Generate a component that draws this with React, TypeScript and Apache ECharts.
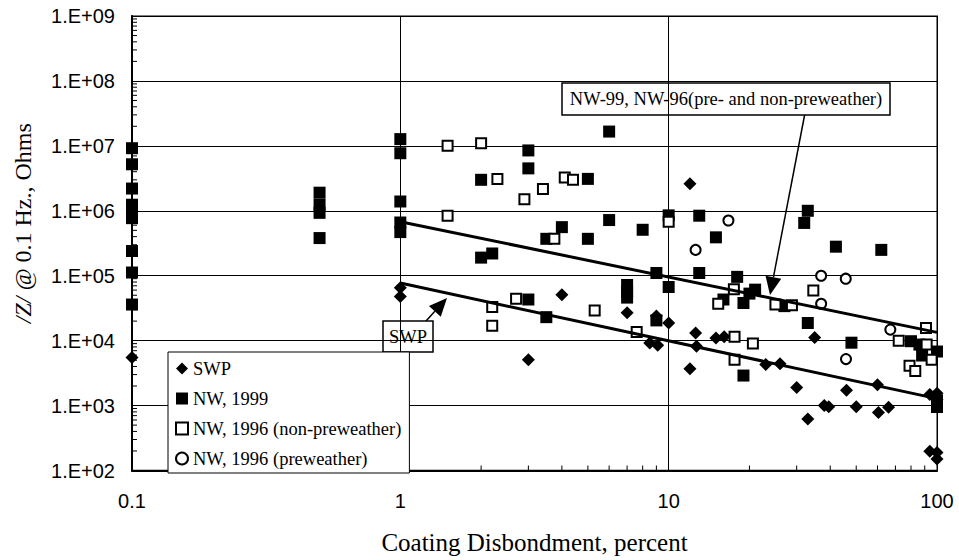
import React, { useEffect, useRef } from "react";
import * as echarts from "echarts";

// Impedance at 0.1 Hz versus coating disbondment, [percent, ohms]
const swp: [number, number][] = [
  [0.1, 5500],
  [1, 65000], [1, 48000],
  [3.0, 5100],
  [4.0, 51000],
  [7.0, 27000],
  [8.5, 9200], [9.1, 8500],
  [9.0, 24000],
  [10, 18700],
  [12, 2600000],
  [12.6, 13100], [12.7, 8200], [12, 3700],
  [15, 11000], [16.1, 11500],
  [23, 4300], [26, 4400],
  [30, 1900], [33, 620],
  [35, 11200],
  [38, 1000], [39.5, 960],
  [46, 1720], [50, 960],
  [60, 2100], [60.5, 780], [66, 940],
  [94, 1480], [100, 1550], [100, 1240],
  [94, 198], [100, 190], [100, 150],
];

const nw1999: [number, number][] = [
  [0.1, 9.2e6], [0.1, 5.2e6], [0.1, 2.2e6], [0.1, 1.24e6], [0.1, 9.8e5], [0.1, 7.7e5], [0.1, 2.4e5], [0.1, 1.12e5], [0.1, 3.6e4],
  [0.5, 1.9e6], [0.5, 1.24e6], [0.5, 9.3e5], [0.5, 3.8e5],
  [1, 1.27e7], [1, 7.7e6], [1, 1.39e6], [1, 6.6e5], [1, 4.7e5],
  [2.0, 3.0e6], [2.0, 1.9e5], [2.2, 2.2e5],
  [3.0, 8.5e6], [3.0, 4.5e6], [3.0, 4.3e4],
  [3.5, 3.7e5], [3.5, 2.3e4],
  [4.0, 5.6e5],
  [5.0, 3.1e6], [5.0, 3.7e5],
  [6.0, 1.66e7], [6.0, 7.2e5],
  [7.0, 7.2e4], [7.0, 5.7e4], [7.0, 4.6e4],
  [8.0, 5.1e5],
  [9.0, 1.1e5], [9.0, 2.05e4],
  [10, 8.5e5], [10, 6.7e4],
  [13, 8.4e5], [13, 1.1e5],
  [15, 3.9e5],
  [16, 4.3e4],
  [18, 9.6e4],
  [19, 3.8e4], [19, 2.9e3],
  [20, 5.3e4], [21, 6.1e4],
  [27, 3.4e4],
  [32, 6.5e5], [33, 1.0e6], [33, 1.87e4],
  [42, 2.8e5],
  [48, 9.3e3],
  [62, 2.5e5],
  [80, 9.8e3], [86, 8.7e3], [88, 5.9e3],
  [100, 6.8e3], [100, 1.2e3], [100, 9.5e2],
];

const nw1996Non: [number, number][] = [
  [1.5, 1.0e7], [2.0, 1.1e7], [1.5, 8.4e5],
  [2.3, 3.1e6], [2.9, 1.5e6], [3.4, 2.16e6], [4.1, 3.25e6], [4.4, 3.0e6],
  [3.75, 3.7e5], [10, 6.8e5],
  [2.2, 3.3e4], [2.2, 1.7e4], [2.7, 4.4e4],
  [5.3, 2.9e4], [7.6, 1.36e4],
  [15.3, 3.7e4], [17.5, 6.2e4], [17.6, 1.15e4], [17.6, 5.1e3], [20.6, 9.0e3],
  [25, 3.6e4], [28.8, 3.5e4], [34.6, 5.9e4],
  [72, 1.0e4], [91, 1.57e4], [91.5, 8.7e3], [79, 4.1e3], [83, 3.4e3], [95.5, 5.1e3],
];

const nw1996Pre: [number, number][] = [
  [12.6, 2.5e5], [16.7, 7.1e5], [37, 1.0e5], [45.7, 9.0e4], [37, 3.7e4], [45.8, 5.2e3], [67, 1.48e4],
];

// Power-law trend lines (end points)
const nwTrend: [number, number][] = [[1, 6.8e5], [100, 1.34e4]];
const swpTrend: [number, number][] = [[1, 7.7e4], [100, 1.28e3]];

const seriesNames = ["SWP", "NW, 1999", "NW, 1996 (non-preweather)", "NW, 1996 (preweather)"];

// Axis ranges
const X_MIN = 0.1;
const X_MAX = 100;
const Y_MIN = 100;
const Y_MAX = 1e9;

const SERIF = "'Liberation Serif', 'Times New Roman', serif";
const SANS = "'Liberation Sans', Arial, sans-serif";

// Minor log ticks (2..9 within each decade) between lo and hi
function logMinorTicks(lo: number, hi: number): number[] {
  const out: number[] = [];
  for (let d = lo; d < hi; d *= 10) {
    for (let k = 2; k <= 9; k++) out.push(Number((d * k).toPrecision(6)));
  }
  return out;
}

function arrowHead(tip: [number, number], from: [number, number], len: number, half: number) {
  const dx = tip[0] - from[0];
  const dy = tip[1] - from[1];
  const d = Math.hypot(dx, dy);
  const ux = dx / d, uy = dy / d;
  const bx = tip[0] - ux * len, by = tip[1] - uy * len;
  const px = -uy, py = ux;
  return {
    base: [bx, by] as [number, number],
    points: [tip, [bx + px * half, by + py * half], [bx - px * half, by - py * half]],
  };
}

export default function App() {
  const ref = useRef<HTMLDivElement>(null);

  useEffect(() => {
    const chart = echarts.init(ref.current!, null, { renderer: "svg" });

    const nwFrom: [number, number] = [805, 113];
    const nwTip: [number, number] = [770, 295];
    const nwHead = arrowHead(nwTip, nwFrom, 18, 8);
    const swpFrom: [number, number] = [426, 321];
    const swpTip: [number, number] = [447, 298];
    const swpHead = arrowHead(swpTip, swpFrom, 18, 8);

    const xMinor = logMinorTicks(X_MIN, X_MAX).map((v) => [v, Y_MIN]);
    const yMinor = logMinorTicks(Y_MIN, Y_MAX).map((v) => [X_MIN, v]);

    const tickSeries = (name: string, data: number[][], vertical: boolean) => ({
      name,
      type: "custom",
      data,
      silent: true,
      clip: false,
      z: 1,
      renderItem: (_p: any, api: any) => {
        const p = api.coord([api.value(0), api.value(1)]);
        return {
          type: "line",
          shape: vertical
            ? { x1: p[0], y1: p[1], x2: p[0], y2: p[1] - 5 }
            : { x1: p[0], y1: p[1], x2: p[0] + 5, y2: p[1] },
          style: { stroke: "#000", lineWidth: 1 },
        };
      },
    });

    const axisCommon = {
      type: "log",
      logBase: 10,
      axisLine: { lineStyle: { color: "#000", width: 2 } },
      axisTick: { inside: true, length: 5, lineStyle: { color: "#000" } },
      splitLine: { show: true, lineStyle: { color: "#000", width: 1 } },
    };

    chart.setOption({
      animation: false,
      backgroundColor: "#fff",
      grid: {
        left: 132,
        right: 22,
        top: 16,
        bottom: 89,
        show: true,
        borderColor: "#808080",
        borderWidth: 2,
      },
      legend: {
        data: seriesNames,
        orient: "vertical",
        left: 168,
        top: 352,
        padding: [7, 8, 5, 7],
        itemWidth: 12,
        itemHeight: 12,
        itemGap: 11,
        selectedMode: false,
        backgroundColor: "#fff",
        borderColor: "#000",
        borderWidth: 1,
        borderRadius: 0,
        z: 8,
        textStyle: { fontFamily: SERIF, fontSize: 18.5, lineHeight: 19, color: "#000" },
      },
      xAxis: {
        ...axisCommon,
        min: X_MIN,
        max: X_MAX,
        name: "Coating Disbondment, percent",
        nameLocation: "middle",
        nameGap: 72,
        nameTextStyle: { fontFamily: SERIF, fontSize: 25, color: "#000", verticalAlign: "middle" },
        axisLabel: { fontFamily: SANS, fontSize: 20, color: "#000", margin: 20 },
      },
      yAxis: {
        ...axisCommon,
        min: Y_MIN,
        max: Y_MAX,
        splitNumber: 7,
        name: "{i|/Z/ @} 0.1 Hz., Ohms",
        nameLocation: "middle",
        nameGap: 109,
        nameRotate: 90,
        nameTextStyle: {
          fontFamily: SERIF,
          fontSize: 24,
          color: "#000",
          verticalAlign: "middle",
          padding: [0, 0, 0, 40],
          rich: { i: { fontFamily: SERIF, fontSize: 24, fontStyle: "italic", color: "#000" } },
        },
        axisLabel: {
          fontFamily: SANS,
          fontSize: 20,
          color: "#000",
          margin: 17,
          formatter: (v: number) => {
            const e = Math.round(Math.log10(v));
            return "1.E+" + String(e).padStart(2, "0");
          },
        },
      },
      series: [
        {
          name: seriesNames[0],
          type: "scatter",
          data: swp,
          symbol: "diamond",
          symbolSize: 13,
          itemStyle: { color: "#000", opacity: 1 },
          z: 2,
        },
        {
          name: seriesNames[1],
          type: "scatter",
          data: nw1999,
          symbol: "rect",
          symbolSize: 12,
          itemStyle: { color: "#000", opacity: 1 },
          z: 3,
        },
        {
          name: seriesNames[2],
          type: "scatter",
          data: nw1996Non,
          symbol: "rect",
          symbolSize: 10,
          itemStyle: { color: "#fff", borderColor: "#000", borderWidth: 2, opacity: 1 },
          z: 4,
        },
        {
          name: seriesNames[3],
          type: "scatter",
          data: nw1996Pre,
          symbol: "circle",
          symbolSize: 10,
          itemStyle: { color: "#fff", borderColor: "#000", borderWidth: 2, opacity: 1 },
          z: 4,
        },
        {
          name: "NW trend",
          type: "line",
          data: nwTrend,
          symbol: "none",
          lineStyle: { color: "#000", width: 3 },
          silent: true,
          z: 5,
        },
        {
          name: "SWP trend",
          type: "line",
          data: swpTrend,
          symbol: "none",
          lineStyle: { color: "#000", width: 3 },
          silent: true,
          z: 5,
        },
        tickSeries("x minor ticks", xMinor, true),
        tickSeries("y minor ticks", yMinor, false),
      ],
      graphic: [
        {
          type: "group",
          z: 100,
          children: [
            {
              type: "line",
              shape: { x1: nwFrom[0], y1: nwFrom[1], x2: nwHead.base[0], y2: nwHead.base[1] },
              style: { stroke: "#000", lineWidth: 1.5 },
            },
            { type: "polygon", shape: { points: nwHead.points }, style: { fill: "#000" } },
            {
              type: "rect",
              shape: { x: 562, y: 83, width: 328, height: 32 },
              style: { fill: "#fff", stroke: "#000", lineWidth: 1.5 },
            },
            {
              type: "text",
              x: 726,
              y: 99,
              style: {
                text: "NW-99, NW-96(pre- and non-preweather)",
                font: `18.5px ${SERIF}`,
                fill: "#000",
                align: "center",
                verticalAlign: "middle",
              },
            },
            {
              type: "line",
              shape: { x1: swpFrom[0], y1: swpFrom[1], x2: swpHead.base[0], y2: swpHead.base[1] },
              style: { stroke: "#000", lineWidth: 1.5 },
            },
            { type: "polygon", shape: { points: swpHead.points }, style: { fill: "#000" } },
            {
              type: "rect",
              shape: { x: 383, y: 321, width: 50, height: 31 },
              style: { fill: "#fff", stroke: "#000", lineWidth: 1.5 },
            },
            {
              type: "text",
              x: 408,
              y: 337,
              style: {
                text: "SWP",
                font: `18.5px ${SERIF}`,
                fill: "#000",
                align: "center",
                verticalAlign: "middle",
              },
            },
          ],
        },
      ],
    });

    return () => chart.dispose();
  }, []);

  return (
    <div
      ref={ref}
      style={{ position: "fixed", left: 0, top: 0, width: 959, height: 560 }}
    />
  );
}
